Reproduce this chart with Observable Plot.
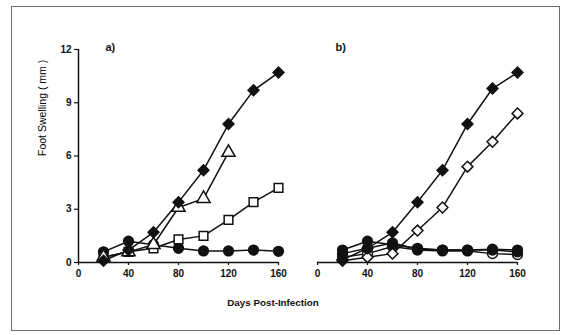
<!DOCTYPE html>
<html>
<head>
<meta charset="utf-8">
<script src="https://cdn.jsdelivr.net/npm/d3@7"></script>
<script src="https://cdn.jsdelivr.net/npm/@observablehq/plot@0.6"></script>
<style>
  html, body { margin: 0; padding: 0; background: #fff; }
  #wrap { position: relative; width: 569px; height: 335px; font-family: "Liberation Sans", Arial, sans-serif; }
  #frame { position: absolute; left: 11px; top: 6px; width: 549px; height: 325px; border: 1.5px solid #6e6e6e; box-sizing: border-box; }
  .panel { position: absolute; top: 0; }
  #xlabel { position: absolute; left: 0; width: 546px; top: 297px; text-align: center; font-size: 9.8px; font-weight: bold; color: #111; }
</style>
</head>
<body>
<div id="wrap">
  <div id="frame"></div>
  <div id="pa" class="panel" style="left:0px"></div>
  <div id="pb" class="panel" style="left:290px"></div>
  <div id="xlabel"></div>
</div>
<script>
// ---- data ----
const days = [20, 40, 60, 80, 100, 120, 140, 160];
const xTicks = [0, 40, 80, 120, 160];
const yTicks = [0, 3, 6, 9, 12];
const yLabel = "Foot Swelling ( mm )";
const xLabel = "Days Post-Infection";
const panelLabels = ["a)", "b)"];

// panel a
const aDiamondFilled = [0.1, 0.7, 1.7, 3.4, 5.2, 7.8, 9.7, 10.7];
const aTriangleOpen  = [0.3, 0.6, 1.0, 3.1, 3.6, 6.2];
const aSquareOpen    = [0.3, 0.6, 0.8, 1.3, 1.5, 2.4, 3.4, 4.2];
const aCircleFilled  = [0.6, 1.2, 1.0, 0.8, 0.65, 0.65, 0.7, 0.63];

// panel b
const bDiamondFilled = [0.15, 0.8, 1.7, 3.4, 5.2, 7.8, 9.8, 10.7];
const bDiamondOpen   = [0.1, 0.3, 0.5, 1.8, 3.1, 5.4, 6.8, 8.4];
const bCircleFilled1 = [0.7, 1.2, 1.0, 0.8, 0.7, 0.7, 0.75, 0.7];
const bCircleFilled2 = [0.5, 0.8, 1.1, 0.75, 0.7, 0.7, 0.7, 0.6];
const bCircleOpen    = [0.3, 0.5, 0.9, 0.7, 0.65, 0.65, 0.5, 0.45];

// ---- build tables ----
function series(name, values, symbol, open) {
  return values.map((v, i) => ({series: name, day: days[i], value: v, symbol, open}));
}
const dataA = [
  ...series("aCircle", aCircleFilled, "circle", false),
  ...series("aSquare", aSquareOpen, "square", true),
  ...series("aTriangle", aTriangleOpen, "triangle", true),
  ...series("aDiamond", aDiamondFilled, "diamond2", false)
];
const dataB = [
  ...series("bCircleOpen", bCircleOpen, "circle", true),
  ...series("bCircle2", bCircleFilled2, "circle", false),
  ...series("bCircle1", bCircleFilled1, "circle", false),
  ...series("bDiamondOpen", bDiamondOpen, "diamond2", true),
  ...series("bDiamond", bDiamondFilled, "diamond2", false)
];

const symbolNames = ["circle", "square", "triangle", "diamond2"];
const symbolScale = {domain: symbolNames, range: symbolNames.map(s => s === "circle" ? d3.symbolCircle : s === "square" ? d3.symbolSquare : s === "triangle" ? d3.symbolTriangle : d3.symbolDiamond2)};

function makePanel(data, label, withYAxis, width, marginLeft) {
  const marks = [];
  marks.push(Plot.ruleY([0], {x1: 0, x2: 160, stroke: "#111", strokeWidth: 1.5}));
  if (withYAxis) {
    marks.push(Plot.ruleX([0], {y1: 0, y2: 12, stroke: "#111", strokeWidth: 1.5}));
    marks.push(Plot.axisY(yTicks, {tickSize: 4, tickPadding: 3, fontSize: 10, fontWeight: "bold", stroke: "#111", strokeWidth: 1.2, label: null}));
    marks.push(Plot.text([yLabel], {frameAnchor: "left", rotate: -90, dx: -36, fontSize: 10.5, fill: "black"}));
  }
  marks.push(Plot.axisX(xTicks, {tickSize: 3, tickPadding: 4, fontSize: 10, fontWeight: "bold", stroke: "#111", strokeWidth: 1.2, label: null}));
  marks.push(Plot.line(data, {x: "day", y: "value", z: "series", stroke: "#111", strokeWidth: 1.5}));
  marks.push(Plot.dot(data, {
    x: "day", y: "value", symbol: "symbol", r: 4.9,
    fill: d => d.open ? "white" : "#111",
    stroke: "#111", strokeWidth: 1.5
  }));
  marks.push(Plot.text([label], {frameAnchor: "top-left", dx: withYAxis ? 27 : 18, dy: -2, lineAnchor: "middle", textAnchor: "start", fontSize: 11, fontWeight: "bold", fill: "#111"}));
  return Plot.plot({
    width, height: 300,
    marginLeft, marginRight: width - marginLeft - 200, marginTop: 49, marginBottom: 38,
    style: {fontFamily: "'Liberation Sans', Arial, sans-serif", color: "#111", background: "transparent", overflow: "visible"},
    x: {domain: [0, 160], axis: null},
    y: {domain: [0, 12], axis: null},
    symbol: symbolScale,
    color: {type: "identity"},
    marks
  });
}

document.getElementById("pa").appendChild(makePanel(dataA, panelLabels[0], true, 290, 78));
document.getElementById("pb").appendChild(makePanel(dataB, panelLabels[1], false, 240, 27));
document.getElementById("xlabel").textContent = xLabel;
</script>
</body>
</html>
